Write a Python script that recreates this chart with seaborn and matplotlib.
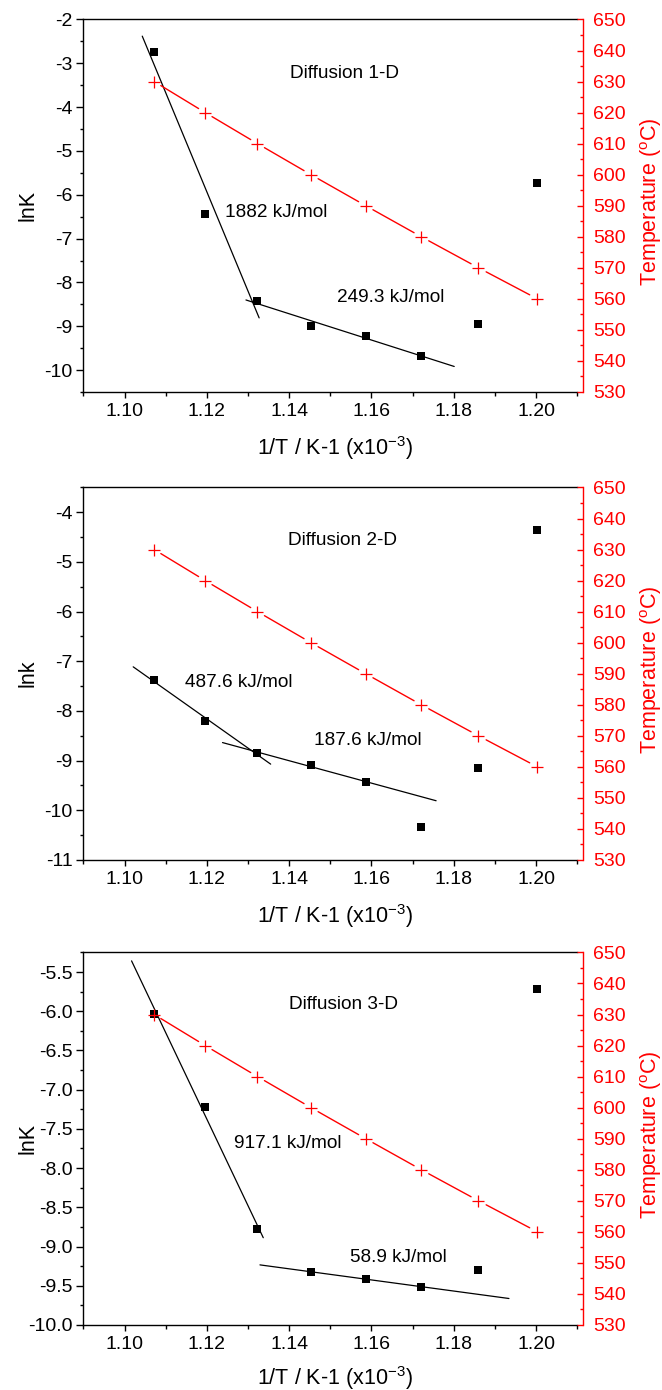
import numpy as np
import pandas as pd
import matplotlib
matplotlib.use("Agg")
import matplotlib.pyplot as plt
from matplotlib.ticker import MultipleLocator, FormatStrFormatter
import seaborn as sns

# Reciprocal temperature (x10^-3 K^-1) and the matching furnace temperature (degC)
inv_T = [1.1072, 1.1196, 1.1323, 1.1453, 1.1586, 1.1721, 1.1860, 1.2003]
temp_c = [630, 620, 610, 600, 590, 580, 570, 560]

# ln k for the three diffusion models
lnk_1d = [-2.75, -6.43, -8.42, -8.99, -9.22, -9.68, -8.96, -5.74]
lnk_2d = [-7.38, -8.20, -8.85, -9.09, -9.43, -10.34, -9.14, -4.36]
lnk_3d = [-6.03, -7.22, -8.78, -9.32, -9.42, -9.51, -9.30, -5.72]

# Activation energies (kJ/mol) of the two Arrhenius regimes
ea_1d = [1882, 249.3]
ea_2d = [487.6, 187.6]
ea_3d = [917.1, 58.9]

# Indices of the points belonging to each regime
fit_pts_1d = [[0, 1, 2], [2, 3, 4, 5]]
fit_pts_2d = [[0, 1, 2], [2, 3, 4]]
fit_pts_3d = [[0, 1, 2], [3, 4, 5]]

# x-span over which each Arrhenius line is drawn
fit_span_1d = [(1.1043, 1.1327), (1.1295, 1.1801)]
fit_span_2d = [(1.1021, 1.1355), (1.1238, 1.1757)]
fit_span_3d = [(1.1017, 1.1337), (1.1329, 1.1934)]

R_GAS = 8.314  # J/(mol K)

sns.set_theme(style="ticks")
plt.rcParams["font.family"] = ["Liberation Sans", "DejaVu Sans"]
plt.rcParams["mathtext.fontset"] = "custom"
plt.rcParams["mathtext.rm"] = "Liberation Sans"
plt.rcParams["mathtext.it"] = "Liberation Sans:italic"
plt.rcParams["mathtext.bf"] = "Liberation Sans:bold"
plt.rcParams["axes.unicode_minus"] = False
for key in ("text.color", "axes.labelcolor", "xtick.color", "ytick.color", "axes.edgecolor"):
    plt.rcParams[key] = "black"

TICK_FS = 14
LABEL_FS = 15.5
NOTE_FS = 13.7

panels = [
    dict(lnk=lnk_1d, ea=ea_1d, pts=fit_pts_1d, span=fit_span_1d, ylabel="lnK",
         ylim=(-10.5, -2), major=1.0, minor=0.5, fmt="%d",
         title="Diffusion 1-D", title_xy=(1.1534, -3.24),
         notes=[(1.1244, -6.41), (1.1517, -8.35)], bottom=0.7180, xlab_y=-0.113),
    dict(lnk=lnk_2d, ea=ea_2d, pts=fit_pts_2d, span=fit_span_2d, ylabel="lnk",
         ylim=(-11, -3.5), major=1.0, minor=0.5, fmt="%d",
         title="Diffusion 2-D", title_xy=(1.1529, -4.56),
         notes=[(1.1146, -7.42), (1.1460, -8.59)], bottom=0.3813, xlab_y=-0.113),
    dict(lnk=lnk_3d, ea=ea_3d, pts=fit_pts_3d, span=fit_span_3d, ylabel="lnK",
         ylim=(-10.0, -5.25), major=0.5, minor=0.25, fmt="%.1f",
         title="Diffusion 3-D", title_xy=(1.1532, -5.91),
         notes=[(1.1265, -7.69), (1.1547, -9.14)], bottom=0.0468, xlab_y=-0.104),
]

fig = plt.figure(figsize=(6.62, 13.9), dpi=100)
x_arr = np.asarray(inv_T)
t_arr = np.asarray(temp_c, dtype=float)

for p in panels:
    ax = fig.add_axes([0.126, p["bottom"], 0.746, 0.268])
    ax.set_facecolor("white")

    # Measured ln k values
    sns.scatterplot(x=inv_T, y=p["lnk"], marker="s", s=26, color="black",
                    edgecolor="black", linewidth=0, ax=ax, zorder=3)

    # Arrhenius lines: slope fixed by Ea, intercept from the regime's points
    y_arr = np.asarray(p["lnk"])
    for ea, idx, (x0, x1) in zip(p["ea"], p["pts"], p["span"]):
        slope = -ea / R_GAS
        icpt = np.mean(y_arr[idx] - slope * x_arr[idx])
        xs = np.array([x0, x1])
        sns.lineplot(x=xs, y=icpt + slope * xs, color="black", linewidth=0.9,
                     ax=ax, estimator=None, sort=False, zorder=2)

    ax.set_xlim(1.09, 1.21)
    ax.set_ylim(*p["ylim"])
    ax.xaxis.set_major_locator(MultipleLocator(0.02))
    ax.xaxis.set_minor_locator(MultipleLocator(0.01))
    ax.xaxis.set_major_formatter(FormatStrFormatter("%.2f"))
    ax.yaxis.set_major_locator(MultipleLocator(p["major"]))
    ax.yaxis.set_minor_locator(MultipleLocator(p["minor"]))
    ax.yaxis.set_major_formatter(FormatStrFormatter(p["fmt"]))

    for side in ("left", "bottom", "top"):
        ax.spines[side].set_color("black")
        ax.spines[side].set_linewidth(1.0)
    ax.spines["right"].set_visible(False)
    ax.tick_params(axis="both", which="both", direction="out", color="black",
                   labelcolor="black", labelsize=TICK_FS, width=1.0)
    ax.tick_params(axis="y", which="major", length=4.8, pad=3)
    ax.tick_params(axis="y", which="minor", length=2.4)
    ax.tick_params(axis="x", which="major", length=4.0, pad=4)
    ax.tick_params(axis="x", which="minor", length=2.6)
    ax.tick_params(axis="x", which="both", top=False)

    ax.set_xlabel(r"1/T / K-1 (x10$^{-3}$)", fontsize=LABEL_FS, color="black")
    ax.xaxis.set_label_coords(0.51, p["xlab_y"])
    ax.set_ylabel(p["ylabel"], fontsize=LABEL_FS, color="black")
    ax.yaxis.set_label_coords(-0.091, 0.5)

    ax.text(*p["title_xy"], p["title"], ha="center", va="center",
            fontsize=NOTE_FS, color="black")
    for (tx, ty), ea in zip(p["notes"], p["ea"]):
        ax.text(tx, ty, f"{ea:g} kJ/mol", ha="left", va="center",
                fontsize=NOTE_FS, color="black")

    # Temperature on the right-hand axis
    ax2 = ax.twinx()
    ax2.set_ylim(530, 650)

    # Connecting line, broken a little around each marker
    gap = 0.13
    seg_rows = []
    for i in range(len(inv_T) - 1):
        xa, xb = x_arr[i], x_arr[i + 1]
        ya, yb = t_arr[i], t_arr[i + 1]
        seg_rows.append((i, xa + gap * (xb - xa), ya + gap * (yb - ya)))
        seg_rows.append((i, xb - gap * (xb - xa), yb - gap * (yb - ya)))
    seg_df = pd.DataFrame(seg_rows, columns=["seg", "x", "y"])
    sns.lineplot(data=seg_df, x="x", y="y", units="seg", estimator=None, sort=False,
                 color="red", linewidth=1.0, ax=ax2, legend=False)
    sns.scatterplot(x=inv_T, y=temp_c, marker="+", s=70, color="red",
                    linewidth=0.9, ax=ax2, zorder=4)

    ax2.yaxis.set_major_locator(MultipleLocator(10))
    ax2.yaxis.set_minor_locator(MultipleLocator(5))
    for side in ("left", "bottom", "top"):
        ax2.spines[side].set_visible(False)
    ax2.spines["right"].set_color("red")
    ax2.spines["right"].set_linewidth(1.0)
    ax2.spines["right"].set_position(("outward", 4.3))
    ax2.tick_params(axis="y", which="both", direction="in", color="red",
                    labelcolor="red", labelsize=TICK_FS, width=1.0)
    ax2.tick_params(axis="y", which="major", length=4.3, pad=7)
    ax2.tick_params(axis="y", which="minor", length=2.4)
    ax2.set_ylabel(r"Temperature ($^{\rm o}$C)", fontsize=LABEL_FS, color="red")
    ax2.yaxis.set_label_coords(1.1225, 0.51)
    ax2.set_xlim(1.09, 1.21)
    ax2.set_xlabel("")

fig.savefig("out.png", dpi=100, facecolor="white")
